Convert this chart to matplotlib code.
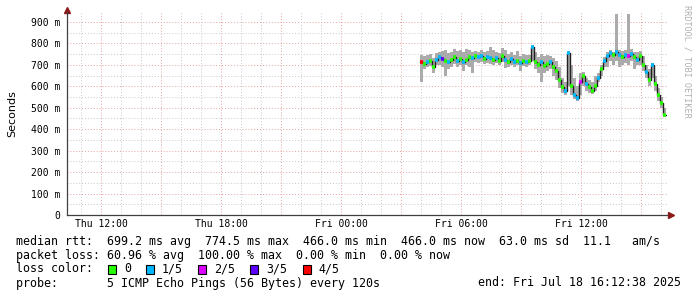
import numpy as np
import matplotlib.pyplot as plt

# time axis: hours since Thu 00:00
x_start, x_end = 10.3, 40.3
t0 = 27.95       # first sample (Fri 03:57)
step = 0.15      # hours per sample

median = [712, 705, 715, 720, 690, 725, 735, 728, 718, 712,
          722, 735, 720, 728, 712, 725, 738, 730, 742, 735,
          740, 728, 735, 730, 725, 730, 720, 742, 725, 715,
          728, 712, 720, 708, 718, 712, 720, 785, 715, 700,
          712, 695, 705, 715, 690, 672, 630, 595, 580, 755,
          600, 560, 545, 620, 650, 610, 595, 580, 600, 640,
          680, 720, 740, 755, 745, 760, 745, 735, 748, 740,
          752, 735, 725, 740, 700, 665, 630, 700, 610, 560,
          520, 466]
smoke_lo = [620, 680, 690, 695, 660, 700, 700, 690, 650, 680,
            690, 705, 690, 700, 670, 700, 690, 660, 715, 710,
            715, 705, 710, 705, 700, 710, 700, 715, 685, 690,
            700, 690, 700, 670, 695, 690, 700, 720, 680, 660,
            620, 660, 670, 680, 650, 630, 590, 570, 560, 600,
            560, 540, 530, 560, 600, 580, 570, 565, 580, 620,
            650, 690, 690, 720, 700, 720, 690, 700, 710, 700,
            720, 680, 700, 700, 670, 640, 600, 640, 580, 530,
            500, 455]
smoke_hi = [745, 740, 745, 750, 730, 755, 760, 765, 770, 755,
            760, 775, 765, 770, 760, 775, 770, 760, 765, 760,
            770, 760, 765, 785, 770, 760, 755, 780, 770, 750,
            760, 745, 765, 740, 750, 745, 745, 795, 760, 735,
            750, 740, 745, 740, 730, 720, 690, 640, 620, 765,
            700, 640, 600, 660, 665, 640, 630, 620, 650, 660,
            700, 735, 760, 770, 760, 935, 770, 765, 770, 935,
            775, 760, 760, 765, 740, 700, 680, 710, 650, 590,
            550, 500]
# packets lost out of 5
loss = [4, 0, 1, 0, 0, 1, 1, 3, 0, 1,
        0, 0, 1, 0, 1, 0, 0, 1, 0, 1,
        1, 0, 1, 1, 0, 1, 0, 0, 1, 0,
        1, 1, 0, 1, 0, 1, 0, 1, 0, 0,
        1, 0, 0, 1, 0, 0, 0, 0, 1, 1,
        0, 1, 1, 2, 0, 1, 0, 0, 0, 1,
        0, 1, 1, 1, 0, 1, 1, 0, 1, 2,
        1, 0, 1, 0, 0, 1, 0, 1, 0, 0,
        0, 0]

loss_colors = ["#26ff00", "#00b8ff", "#dd00ff", "#5e00ff", "#ff0000"]
loss_names = ["0", "1/5", "2/5", "3/5", "4/5"]

xtick_pos = [12, 18, 24, 30, 36]
xtick_labels = ["Thu 12:00", "Thu 18:00", "Fri 00:00", "Fri 06:00", "Fri 12:00"]
ytick_pos = [0, 100, 200, 300, 400, 500, 600, 700, 800, 900]
ytick_labels = ["0"] + ["%d m" % v for v in ytick_pos[1:]]

t = t0 + step * np.arange(len(median))

fig = plt.figure(figsize=(6.97, 2.97), dpi=100)
ax = fig.add_axes([67 / 697, 1 - 215 / 297, 600 / 697, 203 / 297])
ax.set_xlim(x_start, x_end)
ax.set_ylim(0, 946.6)

# grid
for h in np.arange(11, 41, 1):
    major = h % 3 == 0
    ax.axvline(h, color="#e8a0a0" if major else "#c8c8c8", lw=0.7,
               ls=(0, (1, 2)), zorder=0)
for v in np.arange(50, 950, 50):
    major = v % 100 == 0
    ax.axhline(v, color="#e8a0a0" if major else "#c8c8c8", lw=0.7,
               ls=(0, (1, 2)), zorder=0)

# smoke
ax.fill_between(np.append(t, t[-1] + step), np.append(smoke_lo, smoke_lo[-1]),
                np.append(smoke_hi, smoke_hi[-1]), step="post",
                color="#ababab", lw=0, zorder=2)
# median line and loss colour
ax.step(np.append(t, t[-1] + step), np.append(median, median[-1]),
        where="post", color="#202020", lw=1.0, zorder=3)
ax.hlines(median, t + 0.02, t + step - 0.02,
          colors=[loss_colors[l] for l in loss], lw=2.6, zorder=4)

for s in ["top", "right"]:
    ax.spines[s].set_visible(False)
for s in ["left", "bottom"]:
    ax.spines[s].set_color("#404040")
    ax.spines[s].set_linewidth(0.9)
ax.plot([x_start], [946.6 + 8], marker="^", color="#8b1a1a", ms=4,
        clip_on=False)
ax.plot([x_end + 0.2], [0], marker=">", color="#8b1a1a", ms=4, clip_on=False)

ax.set_xticks(xtick_pos)
ax.set_xticklabels(xtick_labels, family="DejaVu Sans Mono", fontsize=7)
ax.set_yticks(ytick_pos)
ax.set_yticklabels(ytick_labels, family="DejaVu Sans Mono", fontsize=7)
ax.tick_params(axis="x", length=0, pad=3)
ax.tick_params(axis="y", length=0, pad=5)
ax.set_ylabel("Seconds", fontsize=8, labelpad=10)

fig.text(687 / 697, 1 - 5 / 297, "RRDTOOL / TOBI OETIKER", rotation=270,
         ha="center", va="top", fontsize=6.1, color="#b0b0b0",
         family="DejaVu Sans Mono")

mono = dict(family="DejaVu Sans Mono", fontsize=8.4, va="center", color="black")
fig.text(16 / 697, 1 - 241 / 297,
         "median rtt:  699.2 ms avg  774.5 ms max  466.0 ms min  466.0 ms now  63.0 ms sd  11.1   am/s",
         **mono)
fig.text(16 / 697, 1 - 255 / 297,
         "packet loss: 60.96 % avg  100.00 % max  0.00 % min  0.00 % now", **mono)
fig.text(16 / 697, 1 - 269 / 297, "loss color:", **mono)
fig.text(16 / 697, 1 - 283 / 297,
         "probe:       5 ICMP Echo Pings (56 Bytes) every 120s", **mono)
fig.text(681 / 697, 1 - 283 / 297, "end: Fri Jul 18 16:12:38 2025",
         ha="right", **mono)

# loss colour legend
lx = 108
for c, name in zip(loss_colors, loss_names):
    fig.patches.append(plt.Rectangle((lx / 697, 1 - 273.5 / 297), 8 / 697, 9 / 297,
                                     transform=fig.transFigure, facecolor=c,
                                     edgecolor="black", lw=0.8))
    fig.text((lx + 16) / 697, 1 - 269 / 297, name, **mono)
    lx += 16 + 7.05 * len(name) + 15

fig.savefig("out.png", dpi=100)
